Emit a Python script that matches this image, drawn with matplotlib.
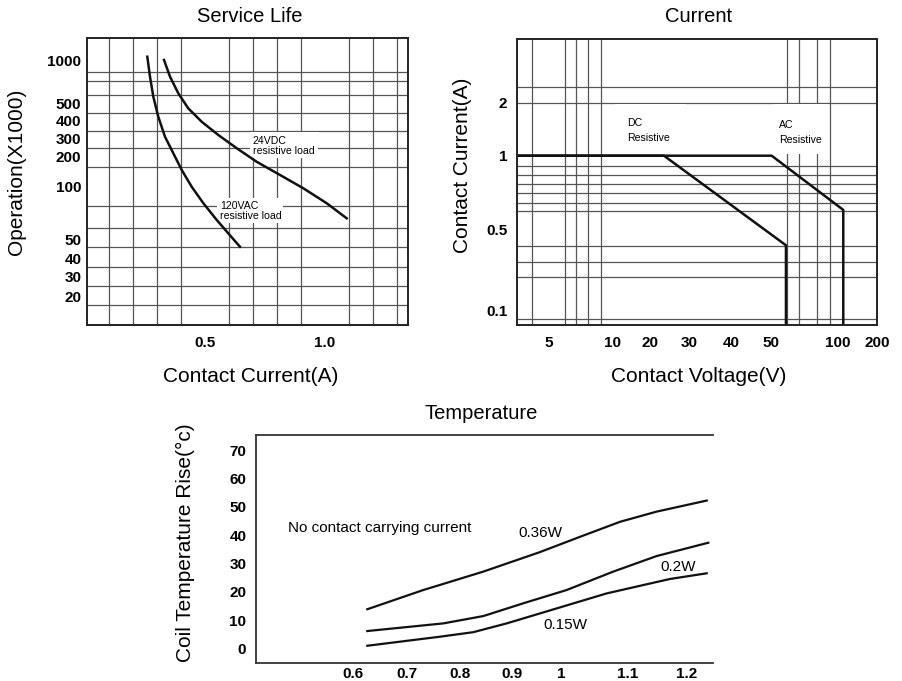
import numpy as np
import matplotlib
matplotlib.use("Agg")
import matplotlib.pyplot as plt
from matplotlib.ticker import FixedLocator, FixedFormatter, NullLocator
from matplotlib.patches import Rectangle

plt.rcParams['font.family'] = ['Liberation Sans', 'DejaVu Sans']

# ---------------- data ----------------
# Service Life
life_ticks = [20, 30, 40, 50, 100, 200, 300, 400, 500, 1000]
life_x_ticks = [0.5, 1.0]
vac_current = [0.2596, 0.2708, 0.2846, 0.3054, 0.3333, 0.3679, 0.4029, 0.4446, 0.4929, 0.5488, 0.5971, 0.6458]
vac_ops = [1067, 771, 557, 422, 308, 213, 145, 99, 80, 64.3, 54, 45.8]
vdc_current = [0.3292, 0.3542, 0.3888, 0.4304, 0.4863, 0.5554, 0.6321, 0.7154, 0.8125, 0.9096, 1.0071, 1.0904]
vdc_ops = [1012, 771, 588, 469, 395, 317, 239, 175, 129, 97.1, 79.9, 65.7]

# Current
volt_ticks = [5, 10, 20, 30, 40, 50, 100, 200]
amp_ticks = [0.1, 0.5, 1, 2]
dc_volt = [3.5, 23.1, 58.6, 58.6]
dc_amp = [1.0, 1.0, 0.369, 0.05]
ac_volt = [3.5, 50.5, 111, 111]
ac_amp = [1.0, 1.0, 0.603, 0.05]

# Temperature
temp_x_ticks = [0.6, 0.7, 0.8, 0.9, 1.0, 1.1, 1.2]
temp_y_ticks = [0, 10, 20, 30, 40, 50, 60, 70]
w036_x = [0.6265, 0.7308, 0.7623, 0.8448, 0.9571, 1.0284, 1.0881, 1.1486, 1.2334]
w036_y = [13.8, 20.6, 22.4, 27.1, 34.0, 39.4, 44.7, 48.3, 52.2]
w02_x = [0.6265, 0.7685, 0.845, 0.923, 1.0085, 1.078, 1.1486, 1.2361]
w02_y = [6.1, 8.8, 11.4, 15.9, 20.6, 27.1, 32.6, 37.3]
w015_x = [0.6265, 0.7623, 0.8256, 0.8898, 0.9912, 1.0682, 1.1712, 1.2334]
w015_y = [0.9, 4.1, 5.7, 8.8, 14.1, 19.4, 24.5, 26.5]

# ---------------- helpers ----------------
W, H = 902, 681
fig = plt.figure(figsize=(W / 100, H / 100), dpi=100)


def axes_px(l, t, r, b):
    ax = fig.add_axes([l / W, 1 - b / H, (r - l) / W, (b - t) / H])
    ax._pxbox = (l, t, r, b)
    return ax


def _interp_ext(x, xp, fp):
    x = np.asarray(x, dtype=float)
    y = np.interp(x, xp, fp)
    lo = (fp[1] - fp[0]) / (xp[1] - xp[0])
    hi = (fp[-1] - fp[-2]) / (xp[-1] - xp[-2])
    y = np.where(x < xp[0], fp[0] + (x - xp[0]) * lo, y)
    y = np.where(x > xp[-1], fp[-1] + (x - xp[-1]) * hi, y)
    return y


def piecewise(vals, pos, log):
    vals = np.asarray(vals, float)
    pos = np.asarray(pos, float)
    u = np.log10(vals) if log else vals

    def fwd(v):
        v = np.asarray(v, float)
        if log:
            v = np.log10(np.clip(v, 1e-12, None))
        return _interp_ext(v, u, pos)

    def inv(p):
        r = _interp_ext(p, pos, u)
        return 10 ** r if log else r
    return fwd, inv


def white_box(ax, l, t, r, b):
    L, T, R, B = ax._pxbox
    ax.add_patch(Rectangle(((l - L) / (R - L), (B - b) / (B - T)),
                           (r - l) / (R - L), (b - t) / (B - T),
                           transform=ax.transAxes, fc='white', ec='none', zorder=1.5))


def px_text(ax, x, y, s, **kw):
    L, T, R, B = ax._pxbox
    ax.text((x - L) / (R - L), (B - y) / (B - T), s, transform=ax.transAxes, zorder=3, **kw)


GRID = '#555555'
LINE = '#111111'
tick_font = dict(fontsize=11, fontweight='bold')

# ---------------- Service Life ----------------
ax1 = axes_px(87, 38, 408, 325)
fwd1, inv1 = piecewise(life_ticks, [-296.7, -276.7, -258.3, -239.3, -186, -156, -138.3, -121, -103.3, -60.7], True)
ax1.set_yscale('function', functions=(fwd1, inv1))
ax1.set_xlim(0.5 + (87 - 205) / 240, 0.5 + (408 - 205) / 240)
ax1.set_ylim(float(inv1(-325)), float(inv1(-38)))
ax1.yaxis.set_major_locator(FixedLocator(life_ticks))
ax1.yaxis.set_major_formatter(FixedFormatter([str(v) for v in life_ticks]))
ax1.yaxis.set_minor_locator(FixedLocator(inv1(-np.array([72, 81, 95, 113, 131, 148, 167, 206, 228, 247, 267, 286, 305]))))
ax1.xaxis.set_major_locator(FixedLocator(life_x_ticks))
ax1.xaxis.set_major_formatter(FixedFormatter(['0.5', '1.0']))
ax1.xaxis.set_minor_locator(FixedLocator(np.arange(1, 14) / 10))
ax1.set_axisbelow(True)
ax1.grid(which='minor', color=GRID, lw=0.9)
ax1.grid(which='major', visible=False)
ax1.tick_params(which='both', length=0)
ax1.tick_params(axis='y', pad=4)
ax1.tick_params(axis='x', pad=8)
for lab in ax1.get_xticklabels() + ax1.get_yticklabels():
    lab.set_fontsize(11); lab.set_fontweight('bold')
for sp in ax1.spines.values():
    sp.set_linewidth(1.4); sp.set_color('#222222')
ax1.plot(vac_current, vac_ops, color=LINE, lw=1.8, zorder=2)
ax1.plot(vdc_current, vdc_ops, color=LINE, lw=1.8, zorder=2)
white_box(ax1, 250, 132, 318, 158)
white_box(ax1, 217, 198, 283, 223)
px_text(ax1, 253, 136, '24VDC\nresistive load', fontsize=7.6, va='top', ha='left', linespacing=1.05)
px_text(ax1, 220, 201, '120VAC\nresistive load', fontsize=7.6, va='top', ha='left', linespacing=1.05)

# ---------------- Current ----------------
ax2 = axes_px(517, 39, 877, 325)
fwdx, invx = piecewise(volt_ticks, [548.3, 612.3, 650, 689.3, 731, 770.7, 837.3, 877], True)
fwdy, invy = piecewise(amp_ticks, [-311, -230, -155.7, -102.7], True)
ax2.set_xscale('function', functions=(fwdx, invx))
ax2.set_yscale('function', functions=(fwdy, invy))
ax2.set_xlim(float(invx(517)), 200)
ax2.set_ylim(float(invy(-325)), float(invy(-39)))
ax2.xaxis.set_major_locator(FixedLocator(volt_ticks))
ax2.xaxis.set_major_formatter(FixedFormatter([str(v) for v in volt_ticks]))
ax2.yaxis.set_major_locator(FixedLocator(amp_ticks))
ax2.yaxis.set_major_formatter(FixedFormatter(['0.1', '0.5', '1', '2']))
ax2.xaxis.set_minor_locator(FixedLocator(invx(np.array(
    [531.7, 548.3, 565, 575.7, 588.3, 601, 612.3, 650, 689.3, 731, 770.7, 786.7, 799.3, 817.3, 830, 837.3]))))
ax2.yaxis.set_minor_locator(FixedLocator(invy(-np.array(
    [87, 103, 166, 175, 184, 193, 203, 211, 230, 246, 262, 277, 311, 319]))))
ax2.set_axisbelow(True)
ax2.grid(which='minor', color=GRID, lw=0.9)
ax2.grid(which='major', visible=False)
ax2.tick_params(which='both', length=0)
ax2.tick_params(axis='y', pad=7)
ax2.tick_params(axis='x', pad=8)
for lab in ax2.get_xticklabels() + ax2.get_yticklabels():
    lab.set_fontsize(11); lab.set_fontweight('bold')
for sp in ax2.spines.values():
    sp.set_linewidth(1.4); sp.set_color('#222222')
ax2.plot(dc_volt, dc_amp, color=LINE, lw=1.8, zorder=2)
ax2.plot(ac_volt, ac_amp, color=LINE, lw=1.8, zorder=2)
white_box(ax2, 615, 104, 686, 154)
white_box(ax2, 773, 104, 828, 154)
px_text(ax2, 627, 118, 'DC\nResistive', fontsize=7.6, va='top', ha='left', linespacing=1.6)
px_text(ax2, 779, 120, 'AC\nResistive', fontsize=7.6, va='top', ha='left', linespacing=1.6)

# ---------------- Temperature ----------------
ax3 = axes_px(256, 435, 713, 663)
fwdt, invt = piecewise(temp_x_ticks, [353, 407, 460, 512, 561, 628, 687], False)
ax3.set_xscale('function', functions=(fwdt, invt))
ax3.set_xlim(float(invt(256)), float(invt(713)))
ax3.set_ylim((648.3 - 663) / 2.83, (648.3 - 435) / 2.83)
ax3.xaxis.set_major_locator(FixedLocator(temp_x_ticks))
ax3.xaxis.set_major_formatter(FixedFormatter(['0.6', '0.7', '0.8', '0.9', '1', '1.1', '1.2']))
ax3.xaxis.set_minor_locator(NullLocator())
ax3.yaxis.set_major_locator(FixedLocator(temp_y_ticks))
ax3.tick_params(which='both', length=0)
ax3.tick_params(axis='y', pad=7)
ax3.tick_params(axis='x', pad=3)
for lab in ax3.get_xticklabels() + ax3.get_yticklabels():
    lab.set_fontsize(11); lab.set_fontweight('bold')
ax3.spines['right'].set_visible(False)
for k in ('left', 'top', 'bottom'):
    ax3.spines[k].set_linewidth(1.3); ax3.spines[k].set_color('#333333')
ax3.plot(w036_x, w036_y, color=LINE, lw=1.6)
ax3.plot(w02_x, w02_y, color=LINE, lw=1.6)
ax3.plot(w015_x, w015_y, color=LINE, lw=1.6)
px_text(ax3, 288, 528, 'No contact carrying current', fontsize=11, va='center', ha='left')
px_text(ax3, 540, 533, '0.36W', fontsize=11, va='center', ha='center')
px_text(ax3, 678, 567, '0.2W', fontsize=11, va='center', ha='center')
px_text(ax3, 565, 625, '0.15W', fontsize=11, va='center', ha='center')

# ---------------- titles and axis labels ----------------
def ftext(x, y, s, **kw):
    fig.text(x / W, 1 - y / H, s, ha='center', va='center', **kw)

ftext(250, 17, 'Service Life', fontsize=14.5)
ftext(699, 17, 'Current', fontsize=14.5)
ftext(481, 414, 'Temperature', fontsize=14.5)
ftext(251, 377, 'Contact Current(A)', fontsize=15)
ftext(699, 377, 'Contact Voltage(V)', fontsize=15)
ftext(17, 172, 'Operation(X1000)', fontsize=15, rotation=90)
ftext(463, 165, 'Contact Current(A)', fontsize=15, rotation=90)
ftext(185, 543, 'Coil Temperature Rise(°c)', fontsize=15, rotation=90)

fig.savefig('out.png', dpi=100)
